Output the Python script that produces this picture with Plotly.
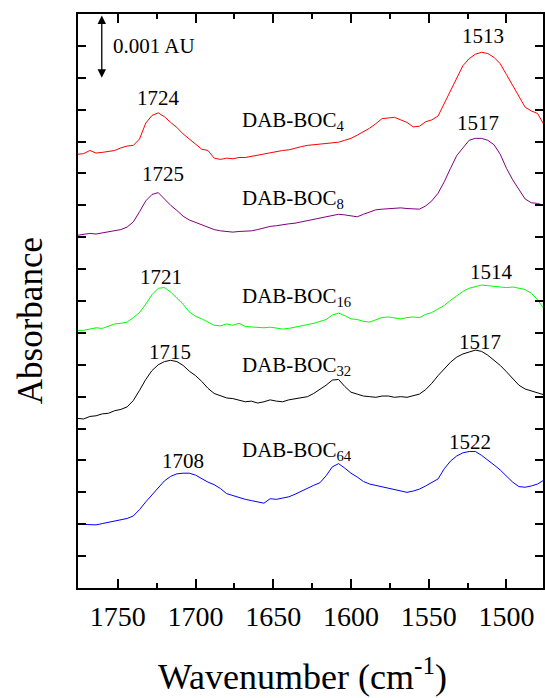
import plotly.graph_objects as go

# Wavenumber grid (cm-1)
WAVENUMBER = [1776, 1772, 1768, 1764, 1760, 1756, 1752, 1748, 1744, 1740,
              1736, 1732, 1728, 1724, 1720, 1716, 1712, 1708, 1704, 1700,
              1696, 1692, 1688, 1684, 1680, 1676, 1672, 1668, 1664, 1660,
              1656, 1652, 1648, 1644, 1640, 1636, 1632, 1628, 1624, 1620,
              1616, 1612, 1608, 1604, 1600, 1596, 1592, 1588, 1584, 1580,
              1576, 1572, 1568, 1564, 1560, 1556, 1552, 1548, 1544, 1540,
              1536, 1532, 1528, 1524, 1520, 1516, 1512, 1508, 1504, 1500,
              1496, 1492, 1488, 1484, 1480, 1476]

# Absorbance (mAU, offset spectra)
BOC4 = [6.80, 6.81, 6.86, 6.82, 6.83, 6.84, 6.86, 6.90, 6.93, 6.94,
        7.04, 7.29, 7.41, 7.45, 7.39, 7.30, 7.22, 7.12, 7.04, 6.95,
        6.88, 6.86, 6.74, 6.72, 6.74, 6.73, 6.75, 6.75, 6.77, 6.78,
        6.80, 6.82, 6.84, 6.86, 6.87, 6.90, 6.92, 6.94, 6.95, 6.96,
        6.97, 6.98, 6.99, 7.02, 7.05, 7.10, 7.15, 7.21, 7.28, 7.36,
        7.37, 7.38, 7.34, 7.30, 7.23, 7.24, 7.31, 7.34, 7.40, 7.60,
        7.80, 8.01, 8.19, 8.30, 8.37, 8.40, 8.38, 8.32, 8.22, 8.05,
        7.88, 7.73, 7.54, 7.48, 7.44, 7.27]
BOC8 = [5.53, 5.55, 5.56, 5.55, 5.57, 5.58, 5.60, 5.62, 5.66, 5.74,
        5.90, 6.07, 6.17, 6.20, 6.10, 6.00, 5.92, 5.83, 5.77, 5.73,
        5.70, 5.66, 5.62, 5.60, 5.59, 5.58, 5.59, 5.59, 5.60, 5.62,
        5.65, 5.67, 5.68, 5.70, 5.71, 5.72, 5.74, 5.75, 5.77, 5.80,
        5.82, 5.84, 5.86, 5.85, 5.83, 5.82, 5.86, 5.90, 5.93, 5.94,
        5.95, 5.96, 5.96, 5.95, 5.94, 5.94, 5.99, 6.07, 6.19, 6.37,
        6.58, 6.78, 6.90, 7.02, 7.05, 7.05, 7.02, 6.95, 6.80, 6.58,
        6.40, 6.24, 6.10, 6.04, 6.03, 6.00]
BOC16 = [4.04, 4.04, 4.06, 4.08, 4.07, 4.11, 4.14, 4.15, 4.17, 4.24,
         4.32, 4.45, 4.60, 4.70, 4.71, 4.64, 4.55, 4.45, 4.33, 4.26,
         4.22, 4.17, 4.12, 4.11, 4.14, 4.12, 4.15, 4.10, 4.09, 4.09,
         4.08, 4.09, 4.07, 4.06, 4.07, 4.09, 4.10, 4.13, 4.15, 4.18,
         4.21, 4.28, 4.31, 4.27, 4.22, 4.21, 4.18, 4.17, 4.21, 4.24,
         4.25, 4.23, 4.22, 4.24, 4.25, 4.24, 4.29, 4.32, 4.37, 4.43,
         4.51, 4.58, 4.65, 4.70, 4.72, 4.75, 4.74, 4.73, 4.72, 4.71,
         4.72, 4.70, 4.68, 4.62, 4.52, 4.38]
BOC32 = [2.66, 2.65, 2.69, 2.70, 2.73, 2.74, 2.78, 2.80, 2.84, 2.94,
         3.10, 3.27, 3.41, 3.50, 3.55, 3.57, 3.55, 3.49, 3.40, 3.33,
         3.24, 3.13, 3.05, 3.01, 2.98, 2.97, 2.94, 2.92, 2.93, 2.90,
         2.92, 2.95, 2.93, 2.92, 2.95, 2.97, 2.98, 3.00, 3.05, 3.11,
         3.18, 3.26, 3.27, 3.16, 3.07, 3.04, 3.01, 3.00, 2.99, 3.01,
         3.01, 2.99, 3.00, 2.99, 3.01, 3.04, 3.11, 3.21, 3.33, 3.43,
         3.54, 3.62, 3.67, 3.70, 3.73, 3.71, 3.65, 3.57, 3.49, 3.39,
         3.28, 3.18, 3.12, 3.09, 3.06, 3.03]
BOC64 = [1.00, 1.00, 0.99, 0.99, 1.01, 1.03, 1.06, 1.07, 1.09, 1.13,
         1.23, 1.35, 1.46, 1.58, 1.68, 1.75, 1.79, 1.80, 1.80, 1.77,
         1.71, 1.66, 1.62, 1.56, 1.48, 1.45, 1.41, 1.39, 1.37, 1.35,
         1.33, 1.40, 1.39, 1.41, 1.43, 1.47, 1.52, 1.57, 1.61, 1.65,
         1.76, 1.90, 1.95, 1.88, 1.80, 1.74, 1.67, 1.63, 1.61, 1.59,
         1.56, 1.54, 1.52, 1.50, 1.52, 1.55, 1.60, 1.65, 1.71, 1.87,
         1.99, 2.07, 2.12, 2.14, 2.14, 2.08, 2.01, 1.93, 1.85, 1.75,
         1.66, 1.59, 1.58, 1.60, 1.63, 1.69]

SERIES_NAMES = ["DAB-BOC<sub>4</sub>", "DAB-BOC<sub>8</sub>", "DAB-BOC<sub>16</sub>",
                "DAB-BOC<sub>32</sub>", "DAB-BOC<sub>64</sub>"]
SERIES_VALUES = [BOC4, BOC8, BOC16, BOC32, BOC64]
SERIES_COLORS = ["#FF0000", "#800080", "#00FF00", "#000000", "#0000FF"]

# Peak labels
PEAK_LABELS = ["1724", "1513", "1725", "1517", "1721", "1514", "1715", "1517", "1708", "1522"]
PEAK_X = [1723.9, 1514.9, 1720.7, 1518.1, 1722.4, 1509.8, 1716.4, 1517.1, 1708.2, 1523.5]
PEAK_Y = [7.68, 8.65, 6.49, 7.29, 4.88, 4.96, 3.70, 3.85, 1.99, 2.29]

NAME_X = 1671.4
NAME_Y = [7.375, 6.152, 4.608, 3.534, 2.194]

SCALE_BAR = 1.0  # mAU = 0.001 AU
SCALE_TEXT = "0.001 AU"

X_RANGE = [1775.6, 1476.5]
Y_RANGE = [0, 9]

FONT = "Liberation Serif, Times New Roman, serif"

fig = go.Figure()
for name, vals, col in zip(SERIES_NAMES, SERIES_VALUES, SERIES_COLORS):
    fig.add_trace(go.Scatter(x=WAVENUMBER, y=vals, mode="lines", name=name,
                             line=dict(color=col, width=1), showlegend=False,
                             hoverinfo="skip"))

ann = []
for t, x, y in zip(PEAK_LABELS, PEAK_X, PEAK_Y):
    ann.append(dict(x=x, y=y, xref="x", yref="y", text=t, showarrow=False,
                    font=dict(family=FONT, size=21, color="black"),
                    xanchor="center", yanchor="middle"))
for name, y in zip(SERIES_NAMES, NAME_Y):
    ann.append(dict(x=NAME_X, y=y, xref="x", yref="y", text=name, showarrow=False,
                    font=dict(family=FONT, size=21, color="black"),
                    xanchor="left", yanchor="middle", yshift=-3))

# scale bar
ann.append(dict(x=1760.3, y=Y_RANGE[1] - SCALE_BAR, ax=1760.3, ay=Y_RANGE[1],
                xref="x", yref="y", axref="x", ayref="y", text="",
                showarrow=True, arrowhead=2, startarrowhead=2, arrowside="end+start",
                arrowsize=1.3, startarrowsize=1.3, arrowwidth=1.3, arrowcolor="black"))
ann.append(dict(x=1754.2, y=Y_RANGE[1] - SCALE_BAR / 2, xref="x", yref="y",
                text=SCALE_TEXT, showarrow=False, xanchor="left", yanchor="middle",
                font=dict(family=FONT, size=21, color="black")))

# axis titles
ann.append(dict(x=-0.103, y=0.465, xref="paper", yref="paper", text="Absorbance",
                textangle=-90, showarrow=False, xanchor="center", yanchor="middle",
                font=dict(family=FONT, size=35, color="black")))
ann.append(dict(x=0.482, y=-0.150, xref="paper", yref="paper",
                text="Wavenumber (cm<sup>-1</sup>)", showarrow=False,
                xanchor="center", yanchor="middle",
                font=dict(family=FONT, size=36, color="black")))

fig.update_layout(
    width=545, height=698,
    margin=dict(l=78, r=0, t=14, b=110),
    paper_bgcolor="white", plot_bgcolor="white",
    annotations=ann,
    font=dict(family=FONT, color="black"),
)
fig.update_xaxes(range=X_RANGE, showgrid=False, zeroline=False,
                 showline=True, linecolor="black", linewidth=2, mirror="ticks",
                 ticks="inside", ticklen=9, tickwidth=1.5, tickcolor="black",
                 tick0=1500, dtick=50,
                 minor=dict(ticks="inside", ticklen=5, tickwidth=1.5, dtick=25, tickcolor="black"),
                 tickfont=dict(family=FONT, size=28, color="black"),
                 ticklabelstandoff=2)
fig.update_yaxes(range=Y_RANGE, showgrid=False, zeroline=False,
                 showline=True, linecolor="black", linewidth=2, mirror="ticks",
                 ticks="inside", ticklen=8, tickwidth=1.5, tickcolor="black",
                 tick0=0, dtick=0.5, showticklabels=False)

fig.write_html("out.html", config={"displayModeBar": False},
               post_script="document.body.style.margin='0';document.body.style.overflow='hidden';")
